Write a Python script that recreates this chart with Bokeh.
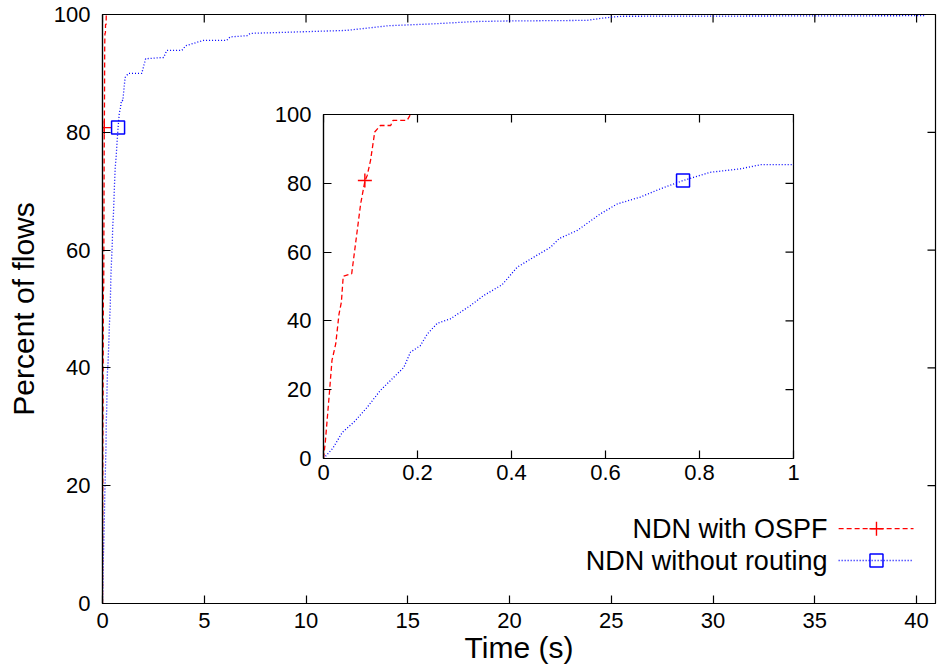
import math
from bokeh.plotting import figure
from bokeh.models import Range1d, FixedTicker, PrintfTickFormatter
from bokeh.embed import file_html
from bokeh.resources import INLINE
from bokeh.core.properties import value

# ---------------- data ----------------
series_labels = ["NDN with OSPF", "NDN without routing"]
x_label = "Time (s)"
y_label = "Percent of flows"

ospf_t = [0, 0.004, 0.013, 0.018, 0.026, 0.033, 0.038, 0.042, 0.06, 0.079, 0.088,
          0.093, 0.1, 0.109, 0.121, 0.143, 0.148, 0.178, 0.185]
ospf_p = [0, 5, 19.8, 28.5, 33.3, 42, 45.4, 53, 53.7, 74, 80.6,
          82.3, 86.6, 94.9, 96.8, 96.8, 98.3, 98.3, 100]

norout_t = [0, 0.02, 0.04, 0.065, 0.093, 0.121, 0.171, 0.185, 0.206, 0.221, 0.242,
            0.27, 0.291, 0.313, 0.341, 0.38, 0.412, 0.447, 0.483, 0.501, 0.54,
            0.589, 0.625, 0.674, 0.717, 0.765, 0.823, 0.887, 0.93, 1.0, 1.11,
            1.27, 1.93, 2.12, 3.0, 3.16, 3.9, 4.09, 4.47, 4.96, 6.1, 6.27, 7.1,
            7.26, 8.29, 11.98, 14.08, 16.18, 18.28, 19.86, 23.8, 24.6, 25.5, 40.4]
norout_p = [0, 3, 7.6, 10.6, 14.9, 19.8, 26.5, 30.9, 32.8, 36.2, 39.3,
            40.6, 42.5, 44.5, 47.4, 50.5, 55.6, 58.5, 61.4, 63.9, 66.3,
            71.1, 74.0, 76.0, 78.4, 80.8, 83.2, 84.2, 85.4, 85.4, 89.3,
            90.0, 90.0, 92.5, 92.7, 93.9, 93.9, 94.7, 95.1, 95.6, 95.6, 96.2, 96.4,
            96.8, 96.9, 97.3, 98.1, 98.4, 98.8, 98.9, 99.0, 99.4, 99.7, 99.8]

ospf_mark_t = [0.088]
ospf_mark_p = [80.8]
norout_mark_t = [0.765]
norout_mark_p = [80.8]

main_x_max = 40.93
main_y_max = 100
main_x_ticks = [0, 5, 10, 15, 20, 25, 30, 35, 40]
main_y_ticks = [0, 20, 40, 60, 80, 100]
inset_x_max = 1.0
inset_y_max = 100
inset_x_ticks = [0, 0.2, 0.4, 0.6, 0.8, 1.0]
inset_y_ticks = [0, 20, 40, 60, 80, 100]

# ---------------- style ----------------
FONT = "Liberation Sans"
RED = "#ff0000"
BLUE = "#0000ff"
TICK_FS = "22px"
TICK_LEN = 8


def style_axis(ax, ticks, standoff):
    ax.ticker = FixedTicker(ticks=ticks)
    ax.formatter = PrintfTickFormatter(format="%g")
    ax.major_tick_in = TICK_LEN
    ax.major_tick_out = 0
    ax.minor_tick_line_color = None
    ax.axis_line_color = "black"
    ax.axis_line_width = 1.2
    ax.major_tick_line_color = "black"
    ax.major_tick_line_width = 1.2
    ax.major_label_text_font = FONT
    ax.major_label_text_color = "black"
    ax.major_label_text_font_size = TICK_FS
    ax.major_label_standoff = standoff
    ax.axis_label_text_font = FONT
    ax.axis_label_text_font_style = "normal"
    ax.axis_label_text_color = "black"


def mirror_ticks(fig, xt, yt, xmax, ymax):
    # gnuplot-style mirrored inward ticks on the top and right borders:
    # a dash centred on the border, its outer half is clipped by the frame
    fig.scatter(xt, [ymax] * len(xt), marker="dash", size=2 * TICK_LEN,
                angle=math.pi / 2, line_color="black", line_width=1.2)
    fig.scatter([xmax] * len(yt), yt, marker="dash", size=2 * TICK_LEN,
                line_color="black", line_width=1.2)


def draw_series(fig):
    fig.line(ospf_t, ospf_p, line_color=RED, line_dash="5 3", line_width=1.3)
    fig.line(norout_t, norout_p, line_color=BLUE, line_dash="1 2", line_width=1.3)
    fig.scatter(ospf_mark_t, ospf_mark_p, marker="cross", size=14,
                line_color=RED, line_width=1.4)
    fig.scatter(norout_mark_t, norout_mark_p, marker="square", size=13,
                fill_color=None, line_color=BLUE, line_width=1.5)


# ---------------- main figure ----------------
p = figure(frame_width=833, frame_height=589,
           x_range=Range1d(0, main_x_max), y_range=Range1d(0, main_y_max),
           output_backend="svg", toolbar_location=None,
           min_border_left=102, min_border_right=2, min_border_top=14,
           min_border_bottom=67)
p.grid.visible = False
p.outline_line_color = "black"
p.outline_line_width = 1.2
p.background_fill_color = "white"
p.border_fill_color = "white"

style_axis(p.xaxis[0], main_x_ticks, standoff=9)
style_axis(p.yaxis[0], main_y_ticks, standoff=12)
p.xaxis[0].axis_label = x_label
p.xaxis[0].axis_label_text_font_size = "30px"
p.xaxis[0].axis_label_standoff = 0
p.yaxis[0].axis_label = y_label
p.yaxis[0].axis_label_text_font_size = "30px"
p.yaxis[0].axis_label_standoff = 11
mirror_ticks(p, main_x_ticks, main_y_ticks, main_x_max, main_y_max)

draw_series(p)

# legend (gnuplot style: label right-aligned, sample to its right)
leg_text_x = 35.62
leg_x0, leg_x1, leg_xm = 36.17, 39.85, 38.03
leg_y = [12.7, 7.3]
p.text(x=[leg_text_x, leg_text_x], y=leg_y, text=series_labels,
       text_align="right", text_baseline="middle",
       text_font=value(FONT), text_font_size="27px", text_color="black")
p.segment(x0=[leg_x0], y0=[leg_y[0]], x1=[leg_x1], y1=[leg_y[0]],
          line_color=RED, line_dash="5 3", line_width=1.3)
p.segment(x0=[leg_x0], y0=[leg_y[1]], x1=[leg_x1], y1=[leg_y[1]],
          line_color=BLUE, line_dash="1 2", line_width=1.3)
p.scatter([leg_xm], [leg_y[0]], marker="cross", size=14, line_color=RED, line_width=1.4)
p.scatter([leg_xm], [leg_y[1]], marker="square", size=13, fill_color=None,
          line_color=BLUE, line_width=1.5)
# whole chart placed at the page origin so it fills the 937x670 window
p.styles = {"position": "absolute", "left": "0px", "top": "0px"}

# ---------------- inset figure ----------------
q = figure(width=540, height=394, x_range=Range1d(0, inset_x_max),
           y_range=Range1d(0, inset_y_max),
           output_backend="svg", toolbar_location=None,
           min_border_left=60, min_border_right=10, min_border_top=16,
           min_border_bottom=34)
q.grid.visible = False
q.outline_line_color = "black"
q.outline_line_width = 1.2
q.background_fill_color = "white"
q.border_fill_color = None
style_axis(q.xaxis[0], inset_x_ticks, standoff=6)
style_axis(q.yaxis[0], inset_y_ticks, standoff=12)
mirror_ticks(q, inset_x_ticks, inset_y_ticks, inset_x_max, inset_y_max)
draw_series(q)
q.styles = {"position": "absolute", "left": "263px", "top": "98px"}

open("out.html", "w").write(file_html([p, q], INLINE))
